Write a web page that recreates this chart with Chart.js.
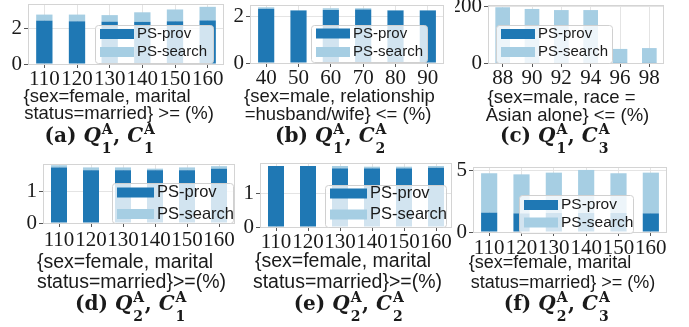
<!DOCTYPE html>
<html>
<head>
<meta charset="utf-8">
<script src="https://cdn.jsdelivr.net/npm/chart.js@4.4.0/dist/chart.umd.min.js"></script>
<style>
  body { margin: 0; background: #fff; width: 689px; height: 327px; position: relative; overflow: hidden; }
  canvas { position: absolute; }
  .cap { position: absolute; transform: translate(-50%, -50%); font: bold 20px "DejaVu Serif", serif; color: #1a1a1a; white-space: nowrap; line-height: 1; }
  .cap i { font-style: italic; }
  .ss { position: relative; display: inline-block; width: 0.62em; height: 0.8em; }
  .ss span { position: absolute; left: 1px; font-size: 0.7em; line-height: 1; }
  .ss .sp { top: -0.22em; }
  .ss .sb { bottom: -0.98em; }
</style>
</head>
<body>
<script>
// categories (x tick labels)
const catsFemale = ['110', '120', '130', '140', '150', '160'];
const catsRel = ['40', '50', '60', '70', '80', '90'];
const catsRace = ['88', '90', '92', '94', '96', '98'];

// stacked values: PS-prov at the bottom, PS-search on top
const q1c1Prov = [2.46, 2.42, 2.40, 2.39, 2.42, 2.47];
const q1c1Search = [0.34, 0.38, 0.37, 0.54, 0.67, 0.77];
const q1c2Prov = [2.36, 2.28, 2.30, 2.32, 2.28, 2.28];
const q1c2Search = [0.06, 0.02, 0.08, 0.06, 0.02, 0.02];
const q1c3Prov = [1.2, 1.1, 1.1, 1.2, 1.0, 1.1];
const q1c3Search = [196.8, 190.9, 186.9, 186.8, 49.0, 51.9];
const q2c1Prov = [1.79, 1.70, 1.70, 1.70, 1.70, 1.75];
const q2c1Search = [0.07, 0.09, 0.09, 0.05, 0.09, 0.08];
const q2c2Prov = [1.82, 1.82, 1.75, 1.75, 1.75, 1.77];
const q2c2Search = [0, 0, 0.07, 0.05, 0.05, 0.05];
const q2c3Prov = [1.58, 1.52, 1.55, 1.55, 1.55, 1.52];
const q2c3Search = [3.21, 3.18, 3.29, 3.51, 3.24, 3.32];

// y tick values
const ticksSmall = [0, 2];
const ticksRace = [0, 200];
const ticksOne = [0, 1];
const ticksFive = [0, 5];

const DARK = '#1f78b4';
const LIGHT = '#a6cee3';
const INK = '#1a1a1a';
const SERIF = '"Liberation Serif", serif';
const SANS = '"Liberation Sans", sans-serif';

const labFemale = ['{sex=female, marital', 'status=married} >= (%)'];
const labFemaleTight = ['{sex=female, marital', 'status=married}>=(%)'];
const labRel = ['{sex=male, relationship', '=husband/wife} <= (%)'];
const labRace = ['{sex=male, race =', 'Asian alone} <= (%)'];

// box: canvas [x, y, w, h]; area: plot [left, top, right, bottom] (page px)
const panels = [
  { tag: 'a', q: 1, c: 1, box: [0, 0, 232, 125], area: [28, 4, 224, 64], labels: catsFemale,
    prov: q1c1Prov, search: q1c1Search, yMax: 3.4, yTicks: ticksSmall, xPad: 1,
    legend: [95, 25, 118, 38, 15, 34, 10, 9, 18],
    xlab: labFemale, xlabPos: [[107, 97], [119, 114]], xlabSize: 18.5, capPos: [100, 134.5] },
  { tag: 'b', q: 1, c: 2, box: [232, 0, 223, 125], area: [250, 5, 444, 63], labels: catsRel,
    prov: q1c2Prov, search: q1c2Search, yMax: 2.52, yTicks: ticksSmall, xPad: 1,
    legend: [311, 25, 116, 37, 15, 34, 10, 8.5, 18.5],
    xlab: labRel, xlabPos: [[339.5, 97], [338, 115]], xlabSize: 18.5, capPos: [331, 134.5] },
  { tag: 'c', q: 1, c: 3, box: [455, 0, 234, 125], area: [488, 5, 664, 63], labels: catsRace,
    prov: q1c3Prov, search: q1c3Search, yMax: 206, yTicks: ticksRace, xPad: 1,
    legend: [496, 25, 116, 38, 15, 34, 10, 9, 18],
    xlab: labRace, xlabPos: [[561.5, 98], [567.5, 116]], xlabSize: 18.5, capPos: [555, 134.5] },
  { tag: 'd', q: 2, c: 1, box: [0, 160, 240, 135], area: [43, 164, 235, 223], labels: catsFemale,
    prov: q2c1Prov, search: q2c1Search, yMax: 1.9, yTicks: ticksOne, xPad: 3,
    legend: [112, 183, 121, 40, 16.5, 37, 10, 9.5, 21.5],
    xlab: labFemaleTight, xlabPos: [[125, 263], [131.5, 283]], xlabSize: 19.5, capPos: [131, 302.5] },
  { tag: 'e', q: 2, c: 2, box: [240, 160, 215, 135], area: [260, 163, 452, 227], labels: catsFemale,
    prov: q2c2Prov, search: q2c2Search, yMax: 1.91, yTicks: ticksOne, xPad: 1,
    legend: [325, 185, 121, 42, 16.5, 37, 10, 8.5, 21],
    xlab: labFemaleTight, xlabPos: [[343, 262], [347.5, 283]], xlabSize: 19.5, capPos: [349, 302.5] },
  { tag: 'f', q: 2, c: 3, box: [455, 160, 234, 135], area: [473, 167, 667, 232], labels: catsFemale,
    prov: q2c3Prov, search: q2c3Search, yMax: 5.3, yTicks: ticksFive, xPad: 1.5,
    legend: [519, 195, 114, 38, 15.5, 34, 10, 10, 17.5],
    xlab: labFemale, xlabPos: [[550, 263], [563, 283]], xlabSize: 18, capPos: [557, 302.5] }
];

// light frame round the plot area
const frame = {
  id: 'frame',
  afterDatasetsDraw(chart) {
    const a = chart.chartArea, ctx = chart.ctx;
    ctx.save();
    ctx.strokeStyle = '#d4d4d4';
    ctx.lineWidth = 1;
    ctx.strokeRect(Math.round(a.left) + 0.5, Math.round(a.top) + 0.5, Math.round(a.right - a.left) - 1, Math.round(a.bottom - a.top));
    ctx.restore();
  }
};

// semi-transparent legend inside the axes
const psLegend = {
  id: 'psLegend',
  afterDraw(chart, args, o) {
    const ctx = chart.ctx;
    const [x, y, w, h, size, hw, hh, r0, gap] = o.spec;
    const lx = x - o.ox, ly = y - o.oy;
    ctx.save();
    ctx.fillStyle = 'rgba(255,255,255,0.8)';
    ctx.strokeStyle = '#d0d0d0';
    ctx.lineWidth = 1;
    ctx.beginPath();
    ctx.roundRect(lx + 0.5, ly + 0.5, w, h, 3);
    ctx.fill();
    ctx.stroke();
    ctx.font = size + 'px ' + SANS;
    ctx.textBaseline = 'middle';
    chart.data.datasets.forEach((ds, i) => {
      const cy = ly + r0 + gap * i;
      ctx.fillStyle = ds.backgroundColor;
      ctx.fillRect(lx + 5, cy - hh / 2, hw, hh);
      ctx.fillStyle = INK;
      ctx.fillText(ds.label, lx + 5 + hw + 3, cy);
    });
    ctx.restore();
  }
};

// two-line x axis label
const xlabel = {
  id: 'xlabel',
  afterDraw(chart, args, o) {
    const ctx = chart.ctx;
    ctx.save();
    ctx.font = o.size + 'px ' + SANS;
    ctx.fillStyle = INK;
    ctx.textAlign = 'center';
    ctx.textBaseline = 'middle';
    o.lines.forEach((t, i) => ctx.fillText(t, o.pos[i][0] - o.ox, o.pos[i][1] - o.oy));
    ctx.restore();
  }
};

panels.forEach(p => {
  const [bx, by, bw, bh] = p.box;
  const [l, t, r, b] = p.area;
  const canvas = document.createElement('canvas');
  canvas.width = bw;
  canvas.height = bh;
  canvas.style.left = bx + 'px';
  canvas.style.top = by + 'px';
  document.body.appendChild(canvas);

  new Chart(canvas, {
    type: 'bar',
    data: {
      labels: p.labels,
      datasets: [
        { label: 'PS-prov', data: p.prov, backgroundColor: DARK, barPercentage: 0.5, categoryPercentage: 1 },
        { label: 'PS-search', data: p.search, backgroundColor: LIGHT, barPercentage: 0.5, categoryPercentage: 1 }
      ]
    },
    options: {
      responsive: false,
      animation: false,
      devicePixelRatio: 1,
      layout: { padding: { left: 0, top: t - by, right: bx + bw - r, bottom: 0 } },
      plugins: {
        legend: { display: false },
        tooltip: { enabled: false },
        psLegend: { spec: p.legend, ox: bx, oy: by },
        xlabel: { lines: p.xlab, pos: p.xlabPos, size: p.xlabSize, ox: bx, oy: by }
      },
      scales: {
        x: {
          stacked: true,
          border: { display: false },
          grid: { offset: false, color: '#e4e4e4', tickColor: '#555', tickLength: 4 },
          ticks: { autoSkip: false, maxRotation: 0, padding: p.xPad, color: INK,
                   font: { family: SERIF, size: 21, lineHeight: 1 } },
          afterFit(s) { s.height = by + bh - b; s.paddingLeft = 0; s.paddingRight = 0; }
        },
        y: {
          stacked: true,
          min: 0,
          max: p.yMax,
          border: { display: false },
          grid: { color: '#e4e4e4', tickColor: '#555', tickLength: 4 },
          ticks: { padding: 2, color: INK, font: { family: SERIF, size: 21, lineHeight: 1 } },
          afterBuildTicks(s) { s.ticks = p.yTicks.map(v => ({ value: v })); },
          afterFit(s) { s.width = l - bx; s.paddingTop = 0; s.paddingBottom = 0; }
        }
      }
    },
    plugins: [frame, psLegend, xlabel]
  });

  const cap = document.createElement('div');
  cap.className = 'cap';
  cap.style.left = p.capPos[0] + 'px';
  cap.style.top = p.capPos[1] + 'px';
  cap.innerHTML = '(' + p.tag + ') <i>Q</i><span class="ss"><span class="sp">A</span><span class="sb">' + p.q +
    '</span></span>, <i>C</i><span class="ss"><span class="sp">A</span><span class="sb">' + p.c + '</span></span>';
  document.body.appendChild(cap);
});
</script>
</body>
</html>
